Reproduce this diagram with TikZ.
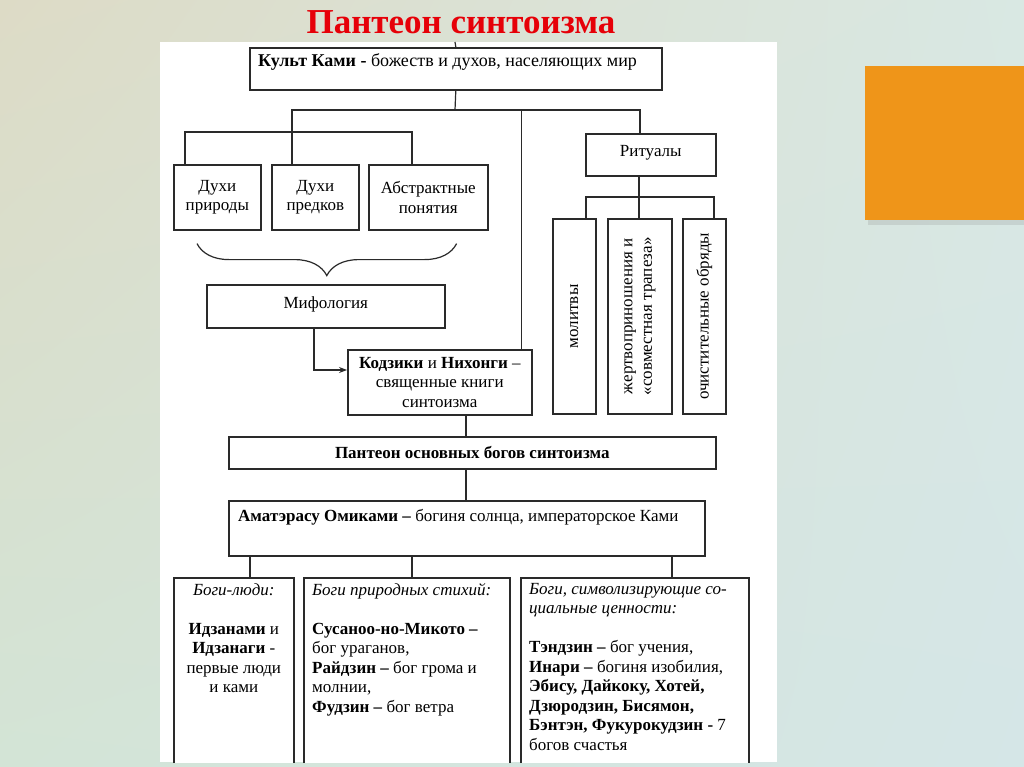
\documentclass[tikz,border=0pt]{standalone}
\usepackage{fontspec}
\setmainfont{Liberation Serif}
\usetikzlibrary{positioning,arrows.meta,calc,decorations.pathreplacing,shadows,shadings}
\definecolor{frame}{HTML}{2A2A2A}
\definecolor{titlered}{HTML}{E60008}
\definecolor{orangeblk}{HTML}{EF9519}
\definecolor{bgbeige}{HTML}{DDDBC6}
\definecolor{bggreen}{HTML}{D3E4D6}
\definecolor{bgblue}{HTML}{D5E6E7}
\definecolor{bgmint}{HTML}{D9E8E3}
\newcommand{\boxfont}{\fontsize{17}{19.5}\selectfont}

\begin{document}
\begin{tikzpicture}[x=1pt, y=-1pt,
  box/.style={draw=frame, line width=1.6pt, fill=white, inner sep=0pt, align=center, font=\boxfont, anchor=north west},
  txt/.style={inner sep=0pt, align=left, font=\boxfont},
  vtxt/.style={inner sep=0pt, align=center, font=\boxfont, rotate=90},
  ln/.style={draw=frame, line width=1.2pt},
  arr/.style={ln, -{Stealth[length=8pt, width=6pt]}}
]
\useasboundingbox (0,0) rectangle (1024,767);
\shade[upper left=bgbeige, upper right=bgmint, lower left=bggreen, lower right=bgblue] (0,0) rectangle (1024,767);
\fill[orangeblk, drop shadow={shadow xshift=3pt, shadow yshift=-5pt, opacity=0.2}] (865,66) rectangle (1024,220);
\fill[white] (160,42) rectangle (777,762);
\node[font=\fontsize{35}{38}\selectfont\bfseries, text=titlered, inner sep=0pt] (title) at (461,22) {Пантеон синтоизма};

\node[box, minimum width=412, minimum height=42] (kult) at (249,47) {};
\node[txt, anchor=west, font=\fontsize{18}{20}\selectfont] (kultT) at ($(kult.north west)+(9,15)$) {\textbf{Культ Ками -} божеств и духов, населяющих мир};
\coordinate (ptop) at (455,42);
\coordinate (j1) at (455,110);

\node[box, minimum width=87, minimum height=65] (dp) at (173,164) {Духи\\природы};
\node[box, minimum width=87, minimum height=65] (dpr) at (271,164) {Духи\\предков};
\node[box, minimum width=119, minimum height=65] (abs) at (368,164) {Абстрактные\\понятия};
\node[box, minimum width=130, minimum height=42, text depth=8pt] (rit) at (585,133) {Ритуалы};

\node[box, minimum width=43, minimum height=195] (mol) at (552,218) {};
\node[box, minimum width=64, minimum height=195] (zhert) at (607,218) {};
\node[box, minimum width=43, minimum height=195] (ochist) at (682,218) {};
\node[vtxt] (molT) at (mol.center) {молитвы};
\node[vtxt] (zhertT) at (zhert.center) {жертвоприношения и\\«совместная трапеза»};
\node[vtxt] (ochistT) at (ochist.center) {очистительные обряды};

\node[box, minimum width=238, minimum height=43, text depth=8pt] (myth) at (206,284) {Мифология};
\node[box, minimum width=184, minimum height=65] (kodz) at (347,349) {\textbf{Кодзики} и \textbf{Нихонги} –\\священные книги\\синтоизма};
\node[box, minimum width=487, minimum height=32, font=\boxfont\bfseries] (pant) at (228,436) {Пантеон основных богов синтоизма};
\node[box, minimum width=476, minimum height=55] (amat) at (228,500) {};
\node[txt, anchor=west] (amatT) at ($(amat.north west)+(10,17)$) {\textbf{Аматэрасу Омиками –} богиня солнца, императорское Ками};

\begin{scope}
\clip (160,42) rectangle (777,762);
\node[box, minimum width=120, minimum height=200] (b1) at (173,577) {};
\node[box, minimum width=206, minimum height=200] (b2) at (303,577) {};
\node[box, minimum width=228, minimum height=200] (b3) at (520,577) {};
\end{scope}
\node[txt, align=center, anchor=north] (b1T) at ($(b1.north)+(0,6)$) {\textit{Боги-люди:}\\[19.5pt]\textbf{Идзанами} и\\\textbf{Идзанаги} -\\первые люди\\и ками};
\node[txt, anchor=north west] (b2T) at ($(b2.north west)+(9,6)$) {\textit{Боги природных стихий:}\\[19.5pt]\textbf{Сусаноо-но-Микото –}\\бог ураганов,\\\textbf{Райдзин –} бог грома и\\молнии,\\\textbf{Фудзин –} бог ветра};
\node[txt, anchor=north west] (b3T) at ($(b3.north west)+(9,6)$) {\textit{Боги, символизирующие со-}\\\textit{циальные ценности:}\\[19.5pt]\textbf{Тэндзин –} бог учения,\\\textbf{Инари –} богиня изобилия,\\\textbf{Эбису, Дайкоку, Хотей,}\\\textbf{Дзюродзин, Бисямон,}\\\textbf{Бэнтэн, Фукурокудзин -} 7\\богов счастья};

\draw[ln] (ptop) -- (kult.north);
\draw[ln] (kult.south) -- (j1);
\draw[ln] ($(dpr.north west)+(21,0)$) |- ($(rit.north west)+(55,-23)$) -- ($(rit.north west)+(55,0)$);
\draw[ln] ($(dp.north west)+(12,0)$) |- ($(abs.north west)+(44,-32)$) -- ($(abs.north west)+(44,0)$);
\draw[ln] ($(kodz.north east)+(-11.5,0)$) -- ++(0,-239);
\draw[ln, decorate, decoration={brace, amplitude=32pt, mirror}] ($(dp.south west)+(24,13)$) -- ($(abs.south east)+(-32,13)$);
\draw[arr] ($(myth.south west)+(108,0)$) |- ($(kodz.north west)+(0,21)$);
\draw[ln] ($(kodz.south west)+(119,0)$) -- ($(pant.north west)+(238,0)$);
\draw[ln] ($(rit.south west)+(54,0)$) -- ($(zhert.north west)+(32,0)$);
\draw[ln] ($(mol.north west)+(34,0)$) |- ($(ochist.north west)+(32,-21)$) -- ($(ochist.north west)+(32,0)$);
\draw[ln] ($(pant.south west)+(238,0)$) -- ($(amat.north west)+(238,0)$);
\draw[ln] ($(amat.south west)+(22,0)$) -- ($(b1.north west)+(77,0)$);
\draw[ln] ($(amat.south west)+(184,0)$) -- ($(b2.north west)+(109,0)$);
\draw[ln] ($(amat.south west)+(444,0)$) -- ($(b3.north west)+(152,0)$);
\end{tikzpicture}
\end{document}
